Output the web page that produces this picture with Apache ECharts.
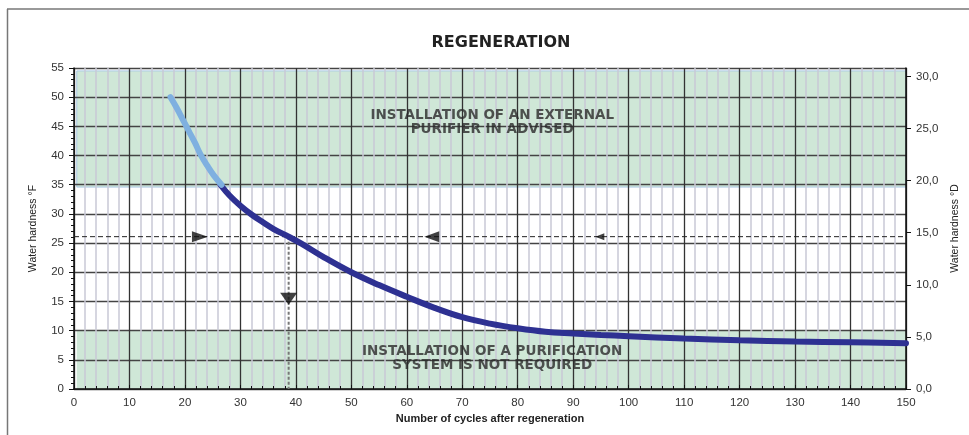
<!DOCTYPE html>
<html><head><meta charset="utf-8">
<script src="https://cdn.jsdelivr.net/npm/echarts@6/dist/echarts.min.js"></script>
<style>html,body{margin:0;padding:0;background:#fff}#c{width:969px;height:435px}</style>
</head><body><div id="c"></div>
<script>
// ---- data ----
const titleText = 'REGENERATION';
const xAxisName = 'Number of cycles after regeneration';
const yLeftName = 'Water hardness °F';
const yRightName = 'Water hardness °D';
const FtoD = 1.785;               // °F per °D
const xRange = [0, 150];
const yRange = [0, 55];

// light-blue start of the curve (cycles, °F)
const curveLightX = [17.4, 18.5, 19.6, 20.7, 21.8, 22.8, 24.0, 25.2, 26.6];
const curveLightY = [50, 48.2, 46.2, 44.2, 42.2, 40.2, 38.3, 36.6, 35.0];
// dark-blue main curve
const curveDarkX = [26.4, 28, 30, 32, 34, 36, 38.7, 41, 45, 50, 55, 60, 65, 70, 75, 80, 85, 90, 95, 100, 110, 120, 130, 140, 150];
const curveDarkY = [35, 33.2, 31.4, 29.9, 28.6, 27.4, 26.1, 24.9, 22.6, 20, 17.8, 15.8, 13.9, 12.3, 11.2, 10.4, 9.8, 9.5, 9.25, 9.05, 8.65, 8.35, 8.15, 8.0, 7.85];

// reference reading
const refHardness = 26.1;
const refCycles = 38.7;
const arrowsRight = [[22.7, 26.1]];
const arrowsLeftBig = [[64.5, 26.1]];
const arrowsLeftSmall = [[94.8, 26.1]];
const arrowsDown = [[38.7, 15.45]];

// zones
const zoneUpper = [0.5, 150.4, 34.6, 54.5];
const zoneLower = [0.5, 150.4, 0, 10];
const zoneUpperText = ['INSTALLATION OF AN EXTERNAL', 'PURIFIER IN ADVISED'];
const zoneLowerText = ['INSTALLATION OF A PURIFICATION', 'SYSTEM IS NOT REQUIRED'];
const zoneUpperTextPos = [75.4, 45.6];
const zoneLowerTextPos = [75.4, 5.2];

// ---- chart ----
const zip = (xs, ys) => xs.map((x, i) => [x, ys[i]]);
const txtFont = "'Liberation Sans', Arial, sans-serif";
const narrowFont = "'Liberation Sans Narrow', 'Liberation Sans', Arial, sans-serif";
const green = '#cfe7d7';

const chart = echarts.init(document.getElementById('c'), null, {renderer: 'canvas'});
const option = {
  animation: false,
  backgroundColor: '#fff',
  title: {
    text: titleText, left: 496, top: 30, textAlign: 'center',
    textStyle: {fontFamily: "'DejaVu Sans', sans-serif", fontWeight: 'bold', fontSize: 16, color: '#222'}
  },
  graphic: [
    {type: 'line', shape: {x1: 7.5, y1: 9, x2: 7.5, y2: 435}, style: {stroke: '#777', lineWidth: 1.5}},
    {type: 'line', shape: {x1: 7, y1: 9, x2: 969, y2: 9}, style: {stroke: '#777', lineWidth: 1.5}}
  ],
  grid: {left: 74, right: 63, top: 68, bottom: 46, containLabel: false},
  xAxis: {
    type: 'value', min: xRange[0], max: xRange[1], interval: 10, z: 2,
    name: xAxisName, nameLocation: 'middle', nameGap: 24,
    nameTextStyle: {fontFamily: txtFont, fontWeight: 'bold', fontSize: 11, color: '#222'},
    axisLine: {show: true, onZero: false, lineStyle: {color: '#111', width: 1.5}},
    axisTick: {show: true, inside: true, length: 4, lineStyle: {color: '#111'}},
    minorTick: {show: true, splitNumber: 5, length: 3, lineStyle: {color: '#111'}},
    axisLabel: {margin: 8, fontFamily: txtFont, fontSize: 11.5, color: '#333'},
    splitLine: {show: true, lineStyle: {color: '#333', width: 1.3}},
    minorSplitLine: {show: true, lineStyle: {color: '#c9c9d6', width: 1.5}}
  },
  yAxis: [
    {
      type: 'value', min: yRange[0], max: yRange[1], interval: 5, z: 2,
      name: yLeftName, nameLocation: 'middle', nameGap: 35, nameRotate: 90,
      nameTextStyle: {fontFamily: narrowFont, fontSize: 10.5, color: '#222'},
      axisLine: {show: true, onZero: false, lineStyle: {color: '#111', width: 1.5}},
      axisTick: {show: true, length: 5, lineStyle: {color: '#111'}},
      minorTick: {show: true, splitNumber: 5, length: 3, lineStyle: {color: '#111'}},
      axisLabel: {margin: 10, fontFamily: txtFont, fontSize: 11.5, color: '#333'},
      splitLine: {show: true, lineStyle: {color: '#444', width: 1.3}}
    },
    {
      type: 'value', position: 'right', min: 0, max: yRange[1] / FtoD, interval: 5, z: 2,
      name: yRightName, nameLocation: 'middle', nameGap: 44, nameRotate: 90,
      nameTextStyle: {fontFamily: narrowFont, fontSize: 10.5, color: '#222'},
      axisLine: {show: true, onZero: false, lineStyle: {color: '#111', width: 1.5}},
      axisTick: {show: true, length: 5, lineStyle: {color: '#111'}},
      axisLabel: {margin: 10, fontFamily: txtFont, fontSize: 11.5, color: '#333',
        formatter: v => v.toFixed(1).replace('.', ',')},
      splitLine: {show: false}
    }
  ],
  series: [
    {
      type: 'line', data: [], z: 0, silent: true,
      markArea: {
        silent: true, z: 0,
        data: [
          [{xAxis: zoneUpper[0], yAxis: zoneUpper[2], itemStyle: {color: green, borderColor: '#a9c8e4', borderWidth: 1}},
           {xAxis: zoneUpper[1], yAxis: zoneUpper[3]}],
          [{xAxis: zoneLower[0], yAxis: zoneLower[2], itemStyle: {color: green, borderColor: green, borderWidth: 0}},
           {xAxis: zoneLower[1], yAxis: zoneLower[3]}]
        ]
      }
    },
    {
      type: 'line', data: [[xRange[0], refHardness], [xRange[1], refHardness]], z: 3,
      symbol: 'none', silent: true,
      lineStyle: {color: '#222', width: 1, type: [5, 3]}
    },
    {
      type: 'line', data: [[refCycles, refHardness], [refCycles, 0]], z: 3,
      symbol: 'none', silent: true,
      lineStyle: {color: '#777', width: 2, type: [3, 2]}
    },
    {
      type: 'line', data: zip(curveDarkX, curveDarkY), z: 4, smooth: 0.4,
      symbol: 'none', silent: true,
      lineStyle: {color: '#2e3192', width: 6, cap: 'round'}
    },
    {
      type: 'line', data: zip(curveLightX, curveLightY), z: 5, smooth: 0.4,
      symbol: 'none', silent: true,
      lineStyle: {color: '#7fb0e0', width: 6, cap: 'round'}
    },
    {type: 'scatter', data: arrowsRight, z: 6, symbol: 'path://M0,0L10,5L0,10Z', symbolSize: [16, 11], itemStyle: {color: '#111'}, silent: true},
    {type: 'scatter', data: arrowsLeftBig, z: 6, symbol: 'path://M10,0L0,5L10,10Z', symbolSize: [15, 11], itemStyle: {color: '#111'}, silent: true},
    {type: 'scatter', data: arrowsLeftSmall, z: 6, symbol: 'path://M10,0L0,5L10,10Z', symbolSize: [9, 7], itemStyle: {color: '#111'}, silent: true},
    {type: 'scatter', data: arrowsDown, z: 6, symbol: 'path://M0,0L10,0L5,10Z', symbolSize: [17, 12], itemStyle: {color: '#111'}, silent: true},
    {
      type: 'scatter', z: 7, symbolSize: 0, silent: true,
      data: [zoneUpperTextPos, zoneLowerTextPos],
      label: {
        show: true, position: 'inside',
        formatter: p => (p.dataIndex === 0 ? zoneUpperText : zoneLowerText).join('\n'),
        fontFamily: "'DejaVu Sans', sans-serif", fontWeight: 'bold', fontSize: 13.5, lineHeight: 14,
        color: '#2a2a2a', align: 'center'
      }
    }
  ]
};
chart.setOption(option);
</script></body></html>
